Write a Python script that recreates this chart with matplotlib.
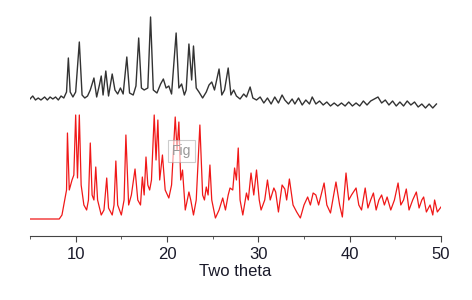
import matplotlib.pyplot as plt

# two theta / intensity values (arbitrary units)
top_theta = [5.0, 5.3, 5.6, 5.9, 6.2, 6.6, 6.9, 7.2, 7.5, 7.8, 8.1, 8.4, 8.7, 9.0, 9.2, 9.4, 9.7,
             10.0, 10.4, 10.7, 11.0, 11.3, 11.6, 12.0, 12.3, 12.6, 12.8, 13.0, 13.3, 13.6, 14.0,
             14.3, 14.6, 14.9, 15.2, 15.6, 15.9, 16.3, 16.6, 16.9, 17.2, 17.5, 17.9, 18.2, 18.5,
             18.9, 19.3, 19.6, 19.9, 20.2, 20.5, 21.0, 21.3, 21.6, 21.9, 22.1, 22.4, 22.7, 22.9,
             23.2, 23.5, 23.9, 24.3, 24.6, 24.9, 25.2, 25.7, 26.0, 26.3, 26.7, 27.0, 27.3, 27.6,
             28.0, 28.4, 28.7, 29.1, 29.4, 29.8, 30.2, 30.6, 31.0, 31.4, 31.8, 32.2, 32.6, 32.9,
             33.3, 33.7, 34.0, 34.4, 34.8, 35.2, 35.6, 35.9, 36.3, 36.7, 37.1, 37.5, 37.9, 38.3,
             38.7, 39.1, 39.5, 39.9, 40.3, 40.7, 41.1, 41.5, 41.9, 42.3, 42.7, 43.1, 43.5, 43.9,
             44.3, 44.7, 45.1, 45.5, 45.9, 46.3, 46.7, 47.1, 47.5, 47.9, 48.3, 48.7, 49.1, 49.5]
top_counts = [110, 140, 100, 120, 100, 130, 100, 130, 110, 130, 100, 140, 120, 180, 520, 180, 130,
              180, 680, 150, 120, 140, 200, 320, 130, 250, 340, 150, 390, 140, 360,
              200, 160, 220, 160, 530, 170, 150, 240, 720, 220, 200, 220, 930, 200,
              170, 260, 310, 220, 240, 160, 770, 220, 260, 150, 200, 660, 300, 640,
              220, 180, 120, 180, 250, 280, 200, 410, 150, 200, 420, 150, 200, 140,
              110, 160, 130, 230, 120, 100, 130, 70, 120, 60, 130, 70, 150, 100,
              60, 110, 60, 120, 50, 100, 60, 130, 60, 90, 50, 80, 40, 70,
              40, 70, 40, 80, 40, 70, 40, 90, 50, 90, 110, 130, 70, 100,
              50, 90, 40, 80, 40, 90, 50, 80, 30, 60, 20, 60, 20, 60]

bottom_theta = [5.0, 8.2, 8.5, 8.8, 9.0, 9.1, 9.3, 9.6, 9.8, 10.0, 10.2, 10.4, 10.6, 10.9, 11.2,
                11.4, 11.6, 11.8, 12.0, 12.2, 12.4, 12.8, 13.1, 13.4, 13.6, 14.0, 14.2, 14.4,
                14.6, 15.0, 15.3, 15.5, 15.8, 16.1, 16.5, 16.8, 17.1, 17.3, 17.5, 17.7, 17.9,
                18.1, 18.3, 18.6, 18.8, 19.0, 19.2, 19.5, 19.8, 20.2, 20.5, 20.9, 21.1, 21.3,
                21.5, 21.7, 22.0, 22.4, 22.6, 22.9, 23.2, 23.6, 23.9, 24.1, 24.3, 24.5, 24.7,
                24.9, 25.3, 25.7, 26.1, 26.4, 26.7, 26.9, 27.2, 27.4, 27.6, 27.8, 28.0, 28.3,
                28.7, 28.9, 29.2, 29.5, 29.8, 30.1, 30.3, 30.7, 31.0, 31.3, 31.7, 31.9, 32.2,
                32.6, 32.9, 33.1, 33.4, 33.8, 34.2, 34.6, 35.0, 35.4, 35.7, 36.0, 36.3, 36.6,
                37.2, 37.5, 37.9, 38.5, 38.9, 39.2, 39.6, 39.9, 40.2, 40.7, 41.0, 41.3, 41.7,
                42.0, 42.3, 42.6, 42.9, 43.2, 43.5, 43.8, 44.1, 44.5, 44.9, 45.3, 45.6, 45.9,
                46.2, 46.5, 46.9, 47.3, 47.6, 47.9, 48.1, 48.4, 48.8, 49.1, 49.3, 49.6, 50.0]
bottom_counts = [10, 10, 50, 200, 300, 870, 300, 400, 450, 1050, 420, 1050, 350, 150, 100,
                 200, 770, 250, 200, 530, 200, 50, 100, 420, 120, 50, 150, 590,
                 150, 50, 200, 850, 150, 250, 510, 200, 150, 430, 250, 630, 350,
                 300, 400, 1050, 600, 1000, 400, 650, 300, 220, 350, 1030, 700, 980,
                 400, 500, 100, 280, 200, 50, 200, 950, 250, 200, 330, 250, 550,
                 200, 20, 100, 220, 100, 250, 320, 300, 520, 400, 720, 200, 50,
                 270, 200, 470, 250, 500, 200, 100, 200, 400, 200, 320, 280, 80,
                 350, 310, 200, 410, 150, 80, 20, 150, 230, 150, 270, 250, 150,
                 370, 150, 70, 380, 150, 30, 470, 200, 250, 320, 150, 100, 320,
                 120, 200, 270, 100, 200, 250, 150, 230, 100, 200, 370, 150, 200,
                 310, 100, 200, 280, 120, 200, 230, 80, 150, 50, 200, 80, 130]

top_offset = 1100
fig_label = 'Fig'

fig = plt.figure(figsize=(4.72, 3.0), dpi=100)
ax = fig.add_axes([30 / 472, 64 / 300, 411 / 472, 226 / 300])

ax.plot(top_theta, [c + top_offset for c in top_counts], color='#333333', lw=1.0,
        solid_joinstyle='round')
ax.plot(bottom_theta, bottom_counts, color='#f01818', lw=0.9, solid_joinstyle='round')

ax.set_xlim(5, 50)
ax.set_ylim(-160, 2100)
ax.set_xticks([10, 20, 30, 40, 50])
ax.set_xticks([5, 15, 25, 35, 45], minor=True)
ax.set_yticks([])
for side in ['left', 'right', 'top']:
    ax.spines[side].set_visible(False)
ax.spines['bottom'].set_color('#444444')
ax.tick_params(axis='x', which='major', length=4, color='#444444', labelsize=12,
               labelcolor='#1a1a2a', pad=4)
ax.tick_params(axis='x', which='minor', length=2.5, color='#444444')
for lbl in ax.get_xticklabels():
    lbl.set_family('Liberation Sans')
ax.set_xlabel('Two theta', fontsize=12, family='Liberation Sans', color='#1a1a2a', labelpad=1)

#small boxed label in the middle of the plot
ax.text(21.6, 690, fig_label, fontsize=10, family='Liberation Sans', color='#999999',
        ha='center', va='center',
        bbox=dict(boxstyle='square,pad=0.3', facecolor='white', alpha=0.6, edgecolor='#aaaaaa', lw=0.8))

fig.savefig('out.png', dpi=100)
